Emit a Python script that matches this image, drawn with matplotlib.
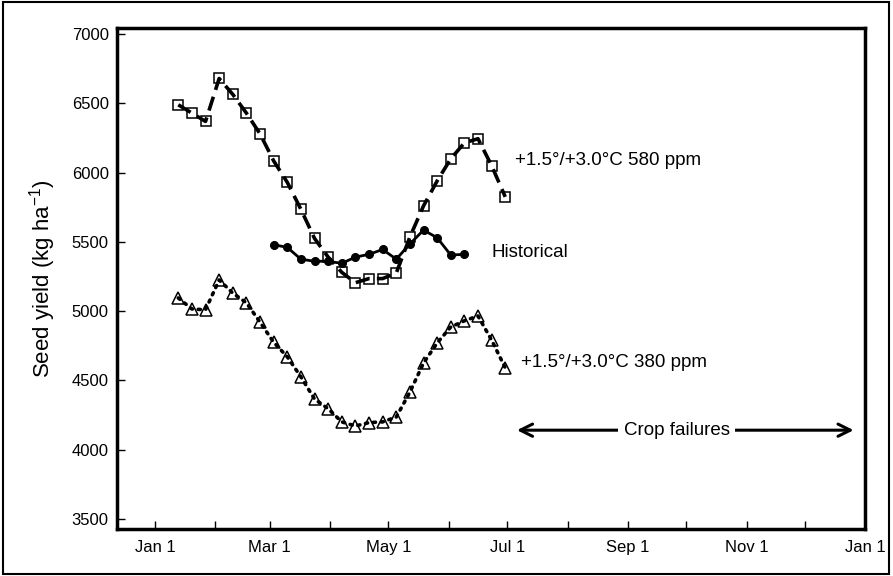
import matplotlib
matplotlib.use("Agg")
import matplotlib.pyplot as plt
from matplotlib.patches import Rectangle

plt.rcParams['font.family'] = ['Liberation Sans', 'DejaVu Sans']

# Planting date (day of year, Jan 1 = 0) and seed yield (kg/ha)
days_580 = [12, 19, 26, 33, 40, 47, 54, 61, 68, 75, 82, 89, 96, 103, 110, 117,
            124, 131, 138, 145, 152, 159, 166, 173, 180]
yield_580 = [6490, 6430, 6370, 6680, 6565, 6430, 6280, 6085, 5930, 5735, 5525,
             5390, 5280, 5205, 5235, 5235, 5275, 5535, 5760, 5940, 6100, 6215,
             6245, 6050, 5825]

days_hist = [61, 68, 75, 82, 89, 96, 103, 110, 117, 124, 131, 138, 145, 152, 159]
yield_hist = [5480, 5460, 5375, 5360, 5360, 5345, 5390, 5410, 5445, 5375, 5485,
              5585, 5530, 5405, 5410]

days_380 = [12, 19, 26, 33, 40, 47, 54, 61, 68, 75, 82, 89, 96, 103, 110, 117,
            124, 131, 138, 145, 152, 159, 166, 173, 180]
yield_380 = [5095, 5015, 5010, 5225, 5130, 5060, 4920, 4775, 4670, 4525, 4365,
             4295, 4200, 4170, 4195, 4200, 4235, 4415, 4625, 4770, 4885, 4930,
             4965, 4790, 4590]

# Month starts for the x axis
month_days = [0, 31, 59, 90, 120, 151, 181, 212, 243, 273, 304, 334, 365]
month_labels = ['Jan 1', '', 'Mar 1', '', 'May 1', '', 'Jul 1', '', 'Sep 1',
                '', 'Nov 1', '', 'Jan 1']
yticks = [3500, 4000, 4500, 5000, 5500, 6000, 6500, 7000]

fig = plt.figure(figsize=(8.93, 5.76), dpi=100)
ax = fig.add_axes([0.131, 0.082, 0.838, 0.869])

# frame around the whole figure
fig.patches.append(Rectangle((0.003, 0.004), 0.992, 0.992, transform=fig.transFigure,
                             fill=False, edgecolor='black', linewidth=1.5))

# open markers first, connecting lines drawn over them
ax.plot(days_580, yield_580, linestyle='none', marker='s', markersize=7.5,
        markerfacecolor='white', markeredgecolor='black', markeredgewidth=1.1, zorder=2)
ax.plot(days_580, yield_580, color='black', linestyle=(0, (4, 2)), linewidth=2.6,
        zorder=3)

ax.plot(days_380, yield_380, linestyle='none', marker='^', markersize=8,
        markerfacecolor='white', markeredgecolor='black', markeredgewidth=1.1, zorder=2)
ax.plot(days_380, yield_380, color='black', linestyle=(0, (0.6, 1.6)), linewidth=2.6,
        dash_capstyle='round', zorder=3)

ax.plot(days_hist, yield_hist, color='black', linestyle='-', linewidth=2.0,
        marker='o', markersize=5.5, markerfacecolor='black', markeredgecolor='black',
        zorder=4)

ax.set_xlim(-19.5, 365)
ax.set_ylim(3428, 7043)
ax.set_xticks(month_days)
ax.set_xticklabels(month_labels)
ax.set_yticks(yticks)
ax.tick_params(direction='in', length=6, width=1, labelsize=12, pad=8)
ax.tick_params(axis='y', pad=6)
for sp in ax.spines.values():
    sp.set_linewidth(2.5)

ax.set_ylabel('Seed yield (kg ha$^{\\mathregular{-1}}$)', fontsize=16, labelpad=10)

ax.text(185, 6085, '+1.5°/+3.0°C 580 ppm', fontsize=13.5, va='center', ha='left')
ax.text(173, 5425, 'Historical', fontsize=13.5, va='center', ha='left')
ax.text(188, 4630, '+1.5°/+3.0°C 380 ppm', fontsize=13.5, va='center', ha='left')

# crop failure range
ax.annotate('', xy=(186, 4140), xytext=(359, 4140),
            arrowprops=dict(arrowstyle='<->', color='black', lw=2.2,
                            mutation_scale=22, shrinkA=0, shrinkB=0))
ax.text(268, 4140, 'Crop failures', fontsize=13.5, va='center', ha='center',
        bbox=dict(facecolor='white', edgecolor='none', pad=4))

fig.savefig('out.png', dpi=100)
